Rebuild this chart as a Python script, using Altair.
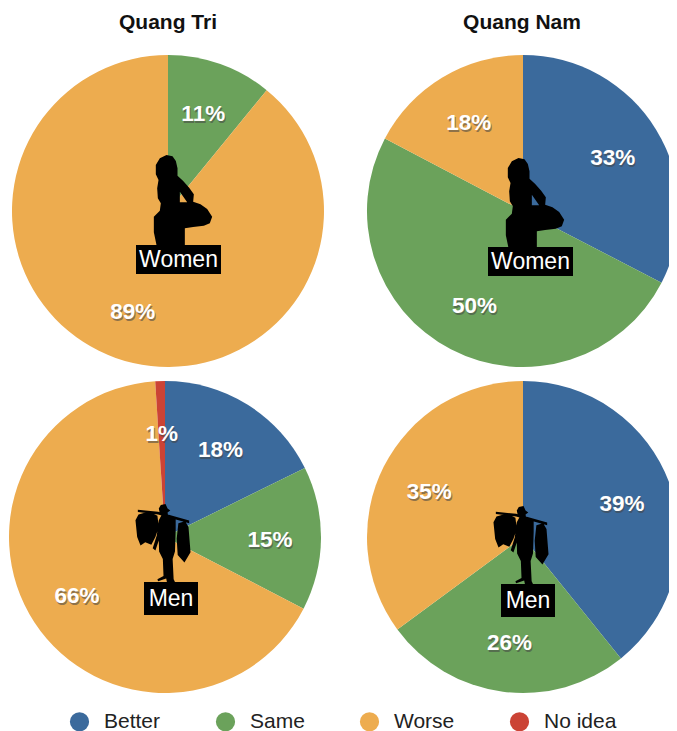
import altair as alt
import pandas as pd

# ---- data ----
series_names = ["Better", "Same", "Worse", "No idea"]
series_colors = ["#3B6A9C", "#6BA25B", "#EDAC4F", "#CB4335"]

qt_women_series = ["Same", "Worse"]
qt_women_labels = [11, 89]
qt_women_shares = [10.9, 89.1]
qn_women_series = ["Better", "Same", "Worse"]
qn_women_labels = [33, 50, 18]
qn_women_shares = [32.6, 50.1, 17.3]
qt_men_series = ["Better", "Same", "Worse", "No idea"]
qt_men_labels = [18, 15, 66, 1]
qt_men_shares = [17.7, 14.9, 66.4, 1.0]
qn_men_series = ["Better", "Same", "Worse"]
qn_men_labels = [39, 26, 35]
qn_men_shares = [39.2, 25.7, 35.1]

region_titles = ["Quang Tri", "Quang Nam"]
group_labels = ["Women", "Men"]

FONT = "Liberation Sans"
OFF = 8  # page margin


def px(v):
    return v - OFF


def symbol(parts):
    xs = [p[0] for part in parts for p in part]
    ys = [p[1] for part in parts for p in part]
    cx, cy = (min(xs) + max(xs)) / 2, (min(ys) + max(ys)) / 2
    half = max(max(xs) - min(xs), max(ys) - min(ys)) / 2
    d = ""
    for part in parts:
        d += "M" + "L".join(f"{(x-cx)/half:.3f},{(y-cy)/half:.3f}" for x, y in part) + "Z"
    return d


WOMAN = symbol([
    [(110, 30), (128, 34), (138, 48), (143, 70), (143, 92), (160, 108), (178, 128), (192, 148),
     (190, 170), (212, 178), (232, 192), (247, 215), (240, 235), (222, 242), (190, 246), (165, 250),
     (165, 300), (80, 300), (72, 262), (72, 215), (90, 197), (93, 175), (84, 160), (82, 130),
     (86, 105), (78, 88), (78, 60), (90, 40)],
    [(150, 140), (150, 172), (172, 172)],
])
MAN = symbol([
    [(102, 40), (108, 30), (122, 27), (128, 40), (136, 46), (128, 52), (130, 64), (152, 72),
     (152, 105), (150, 168), (143, 190), (146, 250), (150, 258), (126, 258), (124, 248),
     (100, 256), (98, 250), (116, 240), (114, 190), (103, 168), (102, 135), (92, 165), (84, 158),
     (96, 120), (102, 75), (110, 60), (104, 50)],
    [(33, 75), (42, 58), (60, 53), (85, 55), (98, 62), (102, 95), (92, 125), (80, 148), (62, 140),
     (48, 150), (38, 125)],
    [(40, 44), (100, 50), (192, 76), (192, 84), (100, 58), (40, 51)],
    [(160, 84), (180, 78), (190, 95), (196, 170), (178, 200), (158, 178), (155, 130)],
])

color_scale = alt.Scale(domain=series_names, range=series_colors)


def pie(series, labels, shares, cx, cy):
    df = pd.DataFrame({
        "series": series,
        "value": shares,
        "idx": list(range(len(series))),
        "label": [f"{v}%" for v in labels],
    })
    theta = alt.Theta("value:Q", stack="normalize")
    order = alt.Order("idx:O")
    arc = alt.Chart(df).mark_arc(radius=156, x=px(cx), y=px(cy)).encode(
        theta=theta,
        order=order,
        color=alt.Color(
            "series:N",
            scale=color_scale,
            legend=alt.Legend(
                title=None,
                orient="none",
                legendX=61,
                legendY=703,
                columns=4,
                symbolType="circle",
                symbolSize=370,
                symbolStrokeWidth=0,
                labelFont=FONT,
                labelFontSize=21,
                labelColor="#222222",
                labelOffset=14,
                columnPadding=54,
                values=series_names,
            ),
        ),
    )
    shadow = alt.Chart(df).mark_text(
        radius=105, x=px(cx), y=px(cy), dx=1, dy=4, font=FONT, fontWeight="bold", fontSize=22.5,
        color="#444444", opacity=0.55,
    ).encode(theta=theta, order=order, detail="series:N", text="label:N")
    text = alt.Chart(df).mark_text(
        radius=105, x=px(cx), y=px(cy), dy=2, font=FONT, fontWeight="bold", fontSize=22.5,
        color="white",
    ).encode(theta=theta, order=order, detail="series:N", text="label:N")
    return [arc, shadow, text]


def title(text, cx, cy):
    return alt.Chart(pd.DataFrame({"t": [text]})).mark_text(
        font=FONT, fontWeight="bold", fontSize=21, color="#111111"
    ).encode(x=alt.value(px(cx)), y=alt.value(px(cy)), text="t:N")


def figure(shape, size, cx, cy):
    return alt.Chart(pd.DataFrame({"k": [0]})).mark_point(
        shape=shape, size=size, filled=True, color="black", opacity=1, strokeWidth=0
    ).encode(x=alt.value(px(cx)), y=alt.value(px(cy)))


def tag(text, x0, x1, y0, y1):
    d = pd.DataFrame({"t": [text]})
    box = alt.Chart(d).mark_rect(color="black").encode(
        x=alt.value(px(x0)), x2=alt.value(px(x1)), y=alt.value(px(y0)), y2=alt.value(px(y1))
    )
    lab = alt.Chart(d).mark_text(font=FONT, fontSize=23, color="white").encode(
        x=alt.value(px((x0 + x1) / 2)), y=alt.value(px((y0 + y1) / 2)), text="t:N"
    )
    return [box, lab]


layers = []
layers += pie(qt_women_series, qt_women_labels, qt_women_shares, 168, 211)
layers += pie(qn_women_series, qn_women_labels, qn_women_shares, 523, 211)
layers += pie(qt_men_series, qt_men_labels, qt_men_shares, 165, 537)
layers += pie(qn_men_series, qn_men_labels, qn_men_shares, 523, 537)
layers += [title(region_titles[0], 168, 23), title(region_titles[1], 522, 23)]
layers += [
    figure(WOMAN, 90 ** 2, 183, 200),
    figure(WOMAN, 90 ** 2, 535, 203),
    figure(MAN, 78 ** 2, 163, 543),
    figure(MAN, 78 ** 2, 521, 545),
]
layers += tag(group_labels[0], 136, 221, 245, 274)
layers += tag(group_labels[0], 488, 573, 247, 276)
layers += tag(group_labels[1], 144, 198, 582, 615)
layers += tag(group_labels[1], 501, 555, 584, 617)

chart = alt.layer(*layers).resolve_scale(color="shared", theta="shared").properties(
    width=661, height=723, padding=0, autosize=alt.AutoSizeParams(type="none"),
    background="white",
).configure_view(stroke=None)

chart.save("out.html", embed_options={"renderer": "svg", "actions": False})
